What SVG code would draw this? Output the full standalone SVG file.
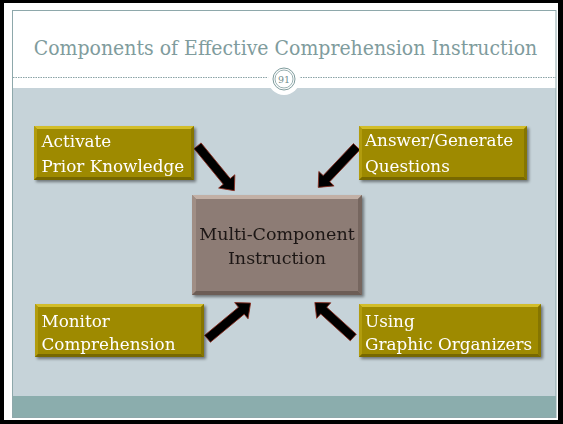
<svg xmlns="http://www.w3.org/2000/svg" width="563" height="424" viewBox="0 0 563 424">
  <style>
    .title { font-family: "DejaVu Serif", "Liberation Serif", serif; font-stretch: condensed; font-size: 21px; fill: #7f9c9d; text-anchor: middle; }
    .label { font-family: "DejaVu Serif", "Liberation Serif", serif; font-size: 16.8px; fill: #ffffff; }
    .center-label { font-family: "DejaVu Serif", "Liberation Serif", serif; font-size: 17.5px; fill: #1c1614; text-anchor: middle; }
    .gold { fill: #9e8a03; }
    .gold-top { fill: #d2bd2c; }
    .gold-left { fill: #b29c10; }
    .gold-bottom { fill: #776700; }
    .gold-right { fill: #857400; }
    .brown { fill: #8d7c74; }
    .brown-top { fill: #c2b0a6; }
    .brown-left { fill: #a08e85; }
    .brown-bottom { fill: #6c5d56; }
    .brown-right { fill: #76665f; }
    .arrow { fill: #000000; stroke: #8a2c1e; stroke-width: 0.8; stroke-linejoin: miter; }
  </style>
  <defs>
    <filter id="shadow" x="-10%" y="-10%" width="130%" height="140%">
      <feGaussianBlur in="SourceAlpha" stdDeviation="1.6"/>
      <feOffset dx="1.5" dy="2" result="b"/>
      <feComponentTransfer><feFuncA type="linear" slope="0.45"/></feComponentTransfer>
      <feMerge><feMergeNode/><feMergeNode in="SourceGraphic"/></feMerge>
    </filter>
  </defs>

  <!-- frame and slide background -->
  <rect x="0" y="0" width="563" height="424" fill="#000000"/>
  <rect x="4" y="3" width="554" height="417" fill="#ffffff"/>
  <rect x="12" y="88" width="544" height="308" fill="#c6d3d9"/>
  <rect x="12" y="396" width="544" height="21" fill="#8badad"/>
  <rect x="12.5" y="10.5" width="543.5" height="407" fill="none" stroke="#8ea8ab" stroke-width="1"/>

  <!-- title -->
  <text class="title" x="285.5" y="55">Components of Effective Comprehension Instruction</text>

  <!-- divider with page badge -->
  <line x1="13" y1="77.5" x2="556" y2="77.5" stroke="#8aa3a6" stroke-width="1" stroke-dasharray="1.5 1"/>
  <circle cx="284" cy="79" r="16" fill="#ffffff"/>
  <circle cx="284" cy="79" r="11" fill="#ffffff" stroke="#7f9c9d" stroke-width="1"/>
  <circle cx="284" cy="79" r="9" fill="none" stroke="#7f9c9d" stroke-width="0.8"/>
  <text x="284" y="82.5" text-anchor="middle" font-family="DejaVu Serif, serif" font-size="9.5" fill="#6f8d8e">91</text>

  <!-- connectors -->
  <g id="connectors">
    <path class="arrow" transform="translate(197.6,145.8) rotate(50.7)" d="M0,-4.5 H46 V-10.5 L58,0 L46,10.5 V4.5 H0 Z"/>
    <path class="arrow" transform="translate(356.7,146.7) rotate(133.4)" d="M0,-4.5 H44 V-10.5 L56,0 L44,10.5 V4.5 H0 Z"/>
    <path class="arrow" transform="translate(207.5,338.8) rotate(-39.7)" d="M0,-4.5 H44 V-10.5 L56,0 L44,10.5 V4.5 H0 Z"/>
    <path class="arrow" transform="translate(353.3,337.5) rotate(-137.7)" d="M0,-4.5 H40 V-10.5 L52,0 L40,10.5 V4.5 H0 Z"/>
  </g>

  <!-- center node -->
  <g id="multi-component" filter="url(#shadow)">
    <rect class="brown" x="192" y="195" width="170" height="100"/>
    <polygon class="brown-top" points="192,195 362,195 358,199 196,199"/>
    <polygon class="brown-left" points="192,195 196,199 196,291 192,295"/>
    <polygon class="brown-bottom" points="192,295 196,291 358,291 362,295"/>
    <polygon class="brown-right" points="362,195 362,295 358,291 358,199"/>
    <text class="center-label" x="277" y="240">Multi-Component</text>
    <text class="center-label" x="277" y="263.5">Instruction</text>
  </g>

  <!-- outer nodes -->
  <g id="activate" filter="url(#shadow)">
    <rect class="gold" x="34" y="126" width="160" height="54"/>
    <polygon class="gold-top" points="34,126 194,126 191,129 37,129"/>
    <polygon class="gold-left" points="34,126 37,129 37,177 34,180"/>
    <polygon class="gold-bottom" points="34,180 37,177 191,177 194,180"/>
    <polygon class="gold-right" points="194,126 194,180 191,177 191,129"/>
    <text class="label" x="41.5" y="147">Activate</text>
    <text class="label" x="41.5" y="172">Prior Knowledge</text>
  </g>

  <g id="answer" filter="url(#shadow)">
    <rect class="gold" x="359" y="126" width="168" height="54"/>
    <polygon class="gold-top" points="359,126 527,126 524,129 362,129"/>
    <polygon class="gold-left" points="359,126 362,129 362,177 359,180"/>
    <polygon class="gold-bottom" points="359,180 362,177 524,177 527,180"/>
    <polygon class="gold-right" points="527,126 527,180 524,177 524,129"/>
    <text class="label" x="365" y="146">Answer/Generate</text>
    <text class="label" x="365" y="171.5">Questions</text>
  </g>

  <g id="monitor" filter="url(#shadow)">
    <rect class="gold" x="35" y="304" width="169" height="53"/>
    <polygon class="gold-top" points="35,304 204,304 201,307 38,307"/>
    <polygon class="gold-left" points="35,304 38,307 38,354 35,357"/>
    <polygon class="gold-bottom" points="35,357 38,354 201,354 204,357"/>
    <polygon class="gold-right" points="204,304 204,357 201,354 201,307"/>
    <text class="label" x="41.5" y="326.5">Monitor</text>
    <text class="label" x="41.5" y="350">Comprehension</text>
  </g>

  <g id="graphic-organizers" filter="url(#shadow)">
    <rect class="gold" x="359" y="304" width="182" height="53"/>
    <polygon class="gold-top" points="359,304 541,304 538,307 362,307"/>
    <polygon class="gold-left" points="359,304 362,307 362,354 359,357"/>
    <polygon class="gold-bottom" points="359,357 362,354 538,354 541,357"/>
    <polygon class="gold-right" points="541,304 541,357 538,354 538,307"/>
    <text class="label" x="365" y="326.5">Using</text>
    <text class="label" x="365" y="350">Graphic Organizers</text>
  </g>
</svg>
